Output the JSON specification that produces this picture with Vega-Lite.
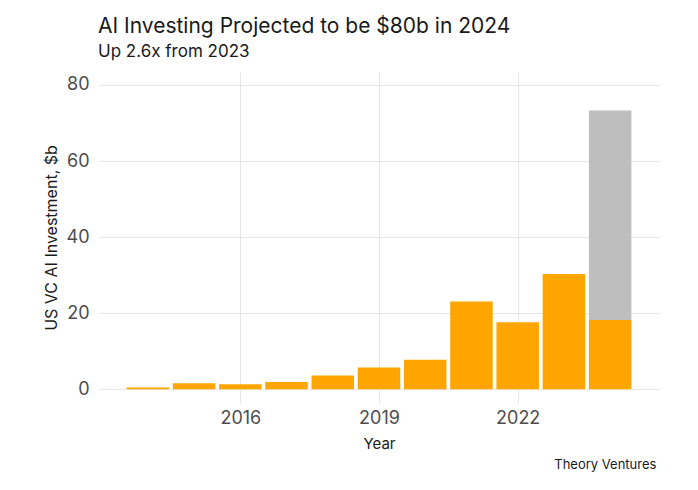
{
  "$schema": "https://vega.github.io/schema/vega-lite/v6.json",
  "width": 562,
  "height": 331,
  "autosize": "none",
  "padding": {"left": 98, "top": 72, "right": 38, "bottom": 87},
  "background": "white",
  "config": {
    "font": "Inter",
    "view": {"stroke": null},
    "axis": {"domain": false, "ticks": false, "gridColor": "#e6e6e6", "gridWidth": 1, "labelColor": "#4d4d4d", "labelFontSize": 18, "titleColor": "#1a1a1a", "titleFontSize": 15, "titleFontWeight": "normal"}
  },
  "title": {
    "text": "AI Investing Projected to be $80b in 2024",
    "subtitle": "Up 2.6x from 2023",
    "anchor": "start",
    "frame": "group",
    "fontSize": 21,
    "fontWeight": "normal",
    "color": "#1a1a1a",
    "subtitleFontSize": 17,
    "subtitleColor": "#1a1a1a",
    "subtitlePadding": 7,
    "offset": 12
  },
  "data": {
    "values": [
      {"year": 2014, "value": 0.45, "kind": "Actual"},
      {"year": 2015, "value": 1.6, "kind": "Actual"},
      {"year": 2016, "value": 1.3, "kind": "Actual"},
      {"year": 2017, "value": 1.9, "kind": "Actual"},
      {"year": 2018, "value": 3.6, "kind": "Actual"},
      {"year": 2019, "value": 5.7, "kind": "Actual"},
      {"year": 2020, "value": 7.75, "kind": "Actual"},
      {"year": 2021, "value": 23.1, "kind": "Actual"},
      {"year": 2022, "value": 17.6, "kind": "Actual"},
      {"year": 2023, "value": 30.3, "kind": "Actual"},
      {"year": 2024, "value": 18.2, "kind": "Actual"},
      {"year": 2024, "value": 55.1, "kind": "Projected"}
    ]
  },
  "layer": [
    {
      "mark": {"type": "bar", "width": 42.5},
      "encoding": {
        "x": {
          "field": "year", "type": "quantitative",
          "scale": {"domain": [2013.03, 2024.97], "nice": false, "zero": false},
          "axis": {"values": [2016, 2019, 2022], "format": "d", "title": "Year", "labelPadding": 6, "titlePadding": 9, "grid": true}
        },
        "y": {
          "field": "value", "type": "quantitative", "stack": "zero",
          "scale": {"domain": [-3.6, 83.4], "nice": false, "zero": false},
          "axis": {"values": [0, 20, 40, 60, 80], "title": "US VC AI Investment, $b", "labelPadding": 9, "titlePadding": 7, "titleFontSize": 16, "grid": true}
        },
        "color": {
          "field": "kind", "type": "nominal",
          "scale": {"domain": ["Actual", "Projected"], "range": ["#FFA500", "#BEBEBE"]},
          "legend": null
        },
        "order": {"field": "kind", "sort": "ascending"}
      }
    },
    {
      "data": {"values": [{"caption": "Theory Ventures"}]},
      "mark": {"type": "text", "align": "right", "baseline": "middle", "fontSize": 13, "color": "#1a1a1a", "clip": false},
      "encoding": {
        "x": {"datum": 2025, "type": "quantitative"},
        "y": {"datum": -19.9, "type": "quantitative"},
        "text": {"field": "caption"}
      }
    }
  ]
}
